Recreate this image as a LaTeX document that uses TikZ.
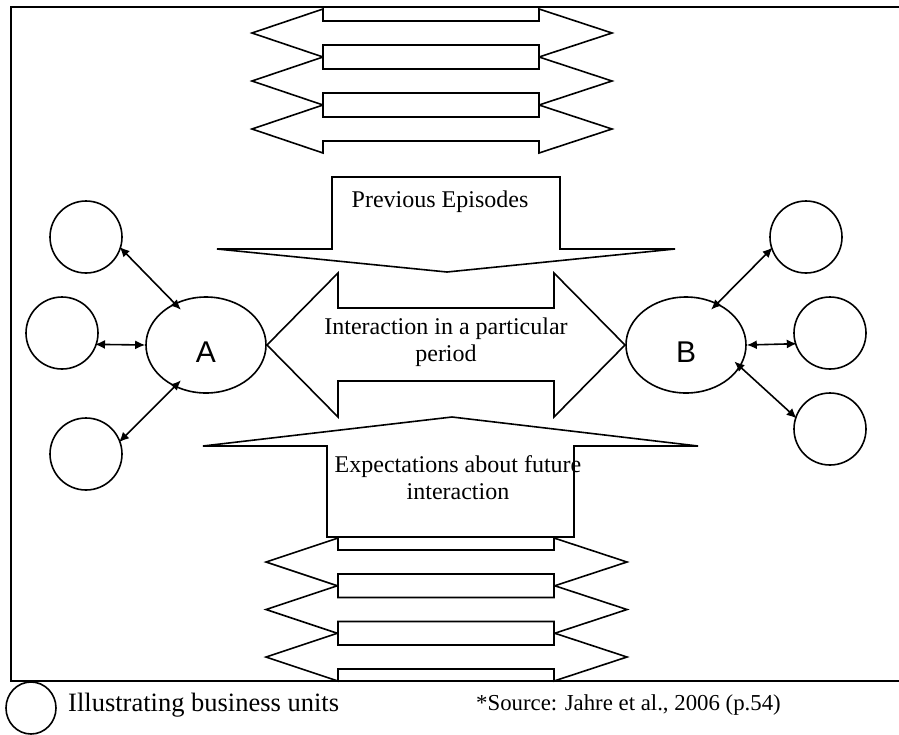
\documentclass[tikz,border=0pt]{standalone}
\usepackage{fontspec}
\setmainfont{Liberation Serif}
\newfontfamily\unitfont{Liberation Sans}
\usetikzlibrary{arrows.meta,shapes.geometric}

\begin{document}
\begin{tikzpicture}[x=1pt,y=-1pt]
    \tikzset{unit/.style = {shape=circle,draw,line width=1.6pt,minimum size=72pt,inner sep=0pt}}
    \tikzset{firm/.style = {shape=ellipse,draw,line width=1.6pt,minimum width=120pt,minimum height=96pt,inner sep=0pt,
        font=\unitfont\fontsize{30}{30}\selectfont,text height=34pt,text depth=0pt}}
    \tikzset{block/.style = {draw,fill=white,line width=1.6pt,line join=miter}}
    \tikzset{link/.style = {<->,> = {Latex[length=10pt,width=9pt]},line width=1.6pt}}
    \tikzset{txt/.style = {font=\fontsize{24}{27}\selectfont,align=center,inner sep=0pt}}
    \useasboundingbox (0,0) rectangle (899,734);
    % frame
    \draw[line width=1.6pt] (910,7) -| (11,681) -- (910,681);

    % arrows above
    \foreach \c in {33,81,129}
        \draw[block] (252,\c) -- (323,{\c-24}) -- (323,{\c-12}) -- (539,{\c-12}) -- (539,{\c-24}) -- (612,\c)
            -- (539,{\c+24}) -- (539,{\c+12}) -- (323,{\c+12}) -- (323,{\c+24}) -- cycle;
    % arrows below
    \foreach \c in {562,609.5,657}
        \draw[block] (266,\c) -- (338,{\c-24}) -- (338,{\c-12}) -- (554,{\c-12}) -- (554,{\c-24}) -- (627,\c)
            -- (554,{\c+24}) -- (554,{\c+12}) -- (338,{\c+12}) -- (338,{\c+24}) -- cycle;

    % big arrows
    \draw[block] (332,177) -- (560,177) -- (560,249) -- (675,249) -- (447,272) -- (217,249) -- (332,249) -- cycle;
    \draw[block] (267,345) -- (338,273) -- (338,308) -- (554,308) -- (554,273) -- (625,345)
        -- (554,417) -- (554,381) -- (338,381) -- (338,417) -- cycle;
    \draw[block] (452,417) -- (698,446) -- (574,446) -- (574,537) -- (327,537) -- (327,446) -- (203,446) -- cycle;

    \node[txt] (prev) at (440,202) {Previous Episodes};
    \node[txt] (inter) at (446,342) {Interaction in a particular\\period};
    \node[txt] (expect) at (458,478) {Expectations about future\\interaction};

    % vertices
    \node[firm] (A) at (206,345) {A};
    \node[firm] (B) at (686,345) {B};
    \node[unit] (la) at (86,237) {};
    \node[unit] (lb) at (62,333) {};
    \node[unit] (lc) at (86,454) {};
    \node[unit] (ra) at (806,237) {};
    \node[unit] (rb) at (830,333) {};
    \node[unit] (rc) at (830,429) {};

    \path[link,shorten <=-2pt,shorten >=-9pt] (la.-18) edge (A.127);
    \path[link,shorten <=-2pt] (lb.-18) edge (A.180);
    \path[link,shorten <=-2pt,shorten >=-9pt] (lc.21) edge (A.233);
    \path[link,shorten <=-9pt,shorten >=-2pt] (B.53) edge (ra.199);
    \path[link,shorten >=-2pt] (B.0) edge (rb.197);
    \path[link,shorten <=-8pt,shorten >=-2pt] (B.-22) edge (rc.161);

    % key
    \node[unit,shape=ellipse,minimum width=50pt,minimum height=52pt] (key) at (31,708) {};
    \node[txt,anchor=west,font=\fontsize{26.5}{27}\selectfont] (keytext) at (68,705) {Illustrating business units};
    \node[txt,anchor=west,font=\fontsize{22.8}{27}\selectfont] (source) at (476,705) {*Source: Jahre et al., 2006 (p.54)};
\end{tikzpicture}
\end{document}
